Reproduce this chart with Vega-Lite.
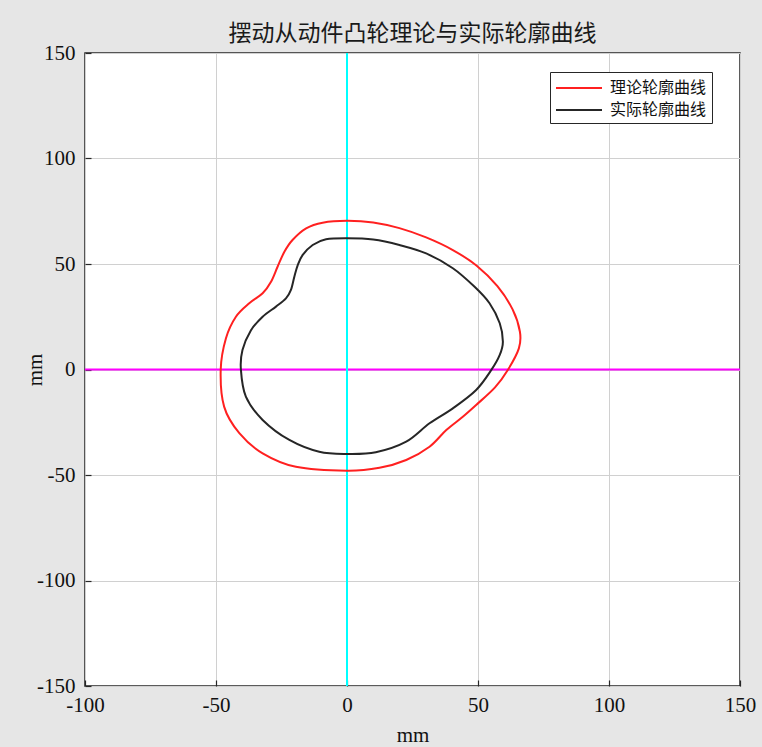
{
  "$schema": "https://vega.github.io/schema/vega-lite/v6.json",
  "autosize": "none",
  "width": 655,
  "height": 633,
  "padding": {"left": 85, "top": 53, "right": 22, "bottom": 61},
  "background": "#e6e6e6",
  "config": {
    "view": {"fill": "white", "stroke": "#262626", "strokeWidth": 1.5},
    "font": "Liberation Serif"
  },
  "title": {
    "text": "摆动从动件凸轮理论与实际轮廓曲线",
    "font": "Noto Sans CJK SC",
    "fontSize": 23,
    "fontWeight": "normal",
    "color": "#1a1a1a",
    "offset": -4,
    "anchor": "middle"
  },
  "datasets": {
    "curves": [
      {"curve": "理论轮廓曲线", "i": 1, "x": 0, "y": 70.5},
      {"curve": "理论轮廓曲线", "i": 2, "x": -9.3, "y": 69.6},
      {"curve": "理论轮廓曲线", "i": 3, "x": -15.6, "y": 66.9},
      {"curve": "理论轮廓曲线", "i": 4, "x": -20.8, "y": 61.4},
      {"curve": "理论轮廓曲线", "i": 5, "x": -23.9, "y": 55.8},
      {"curve": "理论轮廓曲线", "i": 6, "x": -26.5, "y": 48.7},
      {"curve": "理论轮廓曲线", "i": 7, "x": -29.0, "y": 41.6},
      {"curve": "理论轮廓曲线", "i": 8, "x": -32.2, "y": 36.1},
      {"curve": "理论轮廓曲线", "i": 9, "x": -37.3, "y": 31.4},
      {"curve": "理论轮廓曲线", "i": 10, "x": -42.4, "y": 25.0},
      {"curve": "理论轮廓曲线", "i": 11, "x": -46.2, "y": 14.8},
      {"curve": "理论轮廓曲线", "i": 12, "x": -48.2, "y": 0},
      {"curve": "理论轮廓曲线", "i": 13, "x": -46.9, "y": -17.6},
      {"curve": "理论轮廓曲线", "i": 14, "x": -41.1, "y": -30.2},
      {"curve": "理论轮廓曲线", "i": 15, "x": -32.2, "y": -39.7},
      {"curve": "理论轮廓曲线", "i": 16, "x": -19.5, "y": -46.1},
      {"curve": "理论轮廓曲线", "i": 17, "x": 0, "y": -48.0},
      {"curve": "理论轮廓曲线", "i": 18, "x": 12.4, "y": -46.6},
      {"curve": "理论轮廓曲线", "i": 19, "x": 22.6, "y": -42.9},
      {"curve": "理论轮廓曲线", "i": 20, "x": 31.5, "y": -36.6},
      {"curve": "理论轮廓曲线", "i": 21, "x": 37.9, "y": -28.7},
      {"curve": "理论轮廓曲线", "i": 22, "x": 44.2, "y": -22.4},
      {"curve": "理论轮廓曲线", "i": 23, "x": 49.3, "y": -16.8},
      {"curve": "理论轮廓曲线", "i": 24, "x": 56.5, "y": -8.5},
      {"curve": "理论轮廓曲线", "i": 25, "x": 61.5, "y": 0},
      {"curve": "理论轮廓曲线", "i": 26, "x": 65.6, "y": 10.0},
      {"curve": "理论轮廓曲线", "i": 27, "x": 66.0, "y": 17.9},
      {"curve": "理论轮廓曲线", "i": 28, "x": 63.2, "y": 28.5},
      {"curve": "理论轮廓曲线", "i": 29, "x": 57.4, "y": 39.5},
      {"curve": "理论轮廓曲线", "i": 30, "x": 49.5, "y": 49.2},
      {"curve": "理论轮廓曲线", "i": 31, "x": 40.4, "y": 56.6},
      {"curve": "理论轮廓曲线", "i": 32, "x": 30.2, "y": 62.6},
      {"curve": "理论轮廓曲线", "i": 33, "x": 20.0, "y": 67.0},
      {"curve": "理论轮廓曲线", "i": 34, "x": 10.0, "y": 69.7},
      {"curve": "实际轮廓曲线", "i": 1, "x": 0, "y": 62.2},
      {"curve": "实际轮廓曲线", "i": 2, "x": -8.0, "y": 61.7},
      {"curve": "实际轮廓曲线", "i": 3, "x": -13.1, "y": 59.0},
      {"curve": "实际轮廓曲线", "i": 4, "x": -16.9, "y": 54.3},
      {"curve": "实际轮廓曲线", "i": 5, "x": -18.8, "y": 49.5},
      {"curve": "实际轮廓曲线", "i": 6, "x": -20.1, "y": 44.0},
      {"curve": "实际轮廓曲线", "i": 7, "x": -21.4, "y": 37.7},
      {"curve": "实际轮廓曲线", "i": 8, "x": -23.3, "y": 33.7},
      {"curve": "实际轮廓曲线", "i": 9, "x": -27.1, "y": 29.8},
      {"curve": "实际轮廓曲线", "i": 10, "x": -32.2, "y": 25.0},
      {"curve": "实际轮廓曲线", "i": 11, "x": -36.7, "y": 18.5},
      {"curve": "实际轮廓曲线", "i": 12, "x": -39.9, "y": 9.2},
      {"curve": "实际轮廓曲线", "i": 13, "x": -40.5, "y": 0},
      {"curve": "实际轮廓曲线", "i": 14, "x": -38.6, "y": -12.9},
      {"curve": "实际轮廓曲线", "i": 15, "x": -32.2, "y": -23.9},
      {"curve": "实际轮廓曲线", "i": 16, "x": -22.0, "y": -33.4},
      {"curve": "实际轮廓曲线", "i": 17, "x": -10.6, "y": -39.0},
      {"curve": "实际轮廓曲线", "i": 18, "x": 0, "y": -40.0},
      {"curve": "实际轮廓曲线", "i": 19, "x": 11.0, "y": -39.2},
      {"curve": "实际轮廓曲线", "i": 20, "x": 22.6, "y": -34.2},
      {"curve": "实际轮廓曲线", "i": 21, "x": 31.5, "y": -25.5},
      {"curve": "实际轮廓曲线", "i": 22, "x": 40.4, "y": -18.4},
      {"curve": "实际轮廓曲线", "i": 23, "x": 49.3, "y": -9.7},
      {"curve": "实际轮廓曲线", "i": 24, "x": 55.1, "y": -0.2},
      {"curve": "实际轮廓曲线", "i": 25, "x": 58.3, "y": 6.9},
      {"curve": "实际轮廓曲线", "i": 26, "x": 59.5, "y": 13.2},
      {"curve": "实际轮廓曲线", "i": 27, "x": 58.3, "y": 21.9},
      {"curve": "实际轮廓曲线", "i": 28, "x": 54.4, "y": 31.4},
      {"curve": "实际轮廓曲线", "i": 29, "x": 48.7, "y": 39.2},
      {"curve": "实际轮廓曲线", "i": 30, "x": 40.4, "y": 48.0},
      {"curve": "实际轮廓曲线", "i": 31, "x": 30.2, "y": 55.0},
      {"curve": "实际轮廓曲线", "i": 32, "x": 20.0, "y": 59.0},
      {"curve": "实际轮廓曲线", "i": 33, "x": 10.0, "y": 61.6}
    ],
    "refs": [
      {"name": "h", "x": -100, "x2": 150, "y": 0, "y2": 0},
      {"name": "v", "x": 0, "x2": 0, "y": -150, "y2": 150}
    ]
  },
  "layer": [
    {
      "data": {"name": "refs"},
      "mark": {"type": "rule", "strokeWidth": 2},
      "encoding": {
        "x": {
          "field": "x", "type": "quantitative",
          "scale": {"domain": [-100, 150], "nice": false},
          "axis": {
            "title": "mm", "values": [-100, -50, 0, 50, 100, 150],
            "labelExpr": "datum.value < 0 ? '-' + abs(datum.value) : '' + datum.value",
            "grid": true, "gridColor": "#d0d0d0", "gridWidth": 1,
            "tickSize": -6, "tickColor": "#262626", "tickWidth": 1.2,
            "domain": false,
            "labelFont": "Liberation Serif", "labelFontSize": 21, "labelColor": "#111",
            "labelPadding": 14, "labelFlush": false,
            "titleFont": "Liberation Serif", "titleFontSize": 21, "titleFontWeight": "normal", "titleColor": "#111", "titlePadding": 9
          }
        },
        "x2": {"field": "x2"},
        "y": {
          "field": "y", "type": "quantitative",
          "scale": {"domain": [-150, 150], "nice": false},
          "axis": {
            "title": "mm", "values": [-150, -100, -50, 0, 50, 100, 150],
            "labelExpr": "datum.value < 0 ? '-' + abs(datum.value) : '' + datum.value",
            "grid": true, "gridColor": "#d0d0d0", "gridWidth": 1,
            "tickSize": -6, "tickColor": "#262626", "tickWidth": 1.2,
            "domain": false,
            "labelFont": "Liberation Serif", "labelFontSize": 21, "labelColor": "#111",
            "labelPadding": 16, "labelFlush": false,
            "titleFont": "Liberation Serif", "titleFontSize": 21, "titleFontWeight": "normal", "titleColor": "#111",
            "titleX": -50, "titleBaseline": "middle"
          }
        },
        "y2": {"field": "y2"},
        "color": {
          "field": "name", "type": "nominal",
          "scale": {"domain": ["h", "v"], "range": ["#ff00ff", "#00ffff"]},
          "legend": null
        }
      }
    },
    {
      "data": {"name": "curves"},
      "mark": {"type": "line", "interpolate": "cardinal-closed", "strokeWidth": 2},
      "encoding": {
        "x": {"field": "x", "type": "quantitative"},
        "y": {"field": "y", "type": "quantitative"},
        "order": {"field": "i", "type": "quantitative"},
        "stroke": {
          "field": "curve", "type": "nominal",
          "scale": {"domain": ["理论轮廓曲线", "实际轮廓曲线"], "range": ["#ff2020", "#262626"]},
          "legend": {
            "title": null,
            "orient": "none",
            "legendX": 465,
            "legendY": 19,
            "symbolType": "M-1,0L3.6,0",
            "symbolSize": 400,
            "symbolStrokeWidth": 2,
            "labelFont": "Noto Sans CJK SC",
            "labelFontSize": 16,
            "labelColor": "#111",
            "fillColor": "white",
            "strokeColor": "#262626",
            "padding": 5,
            "rowPadding": 3,
            "labelOffset": 33
          }
        }
      }
    }
  ]
}
